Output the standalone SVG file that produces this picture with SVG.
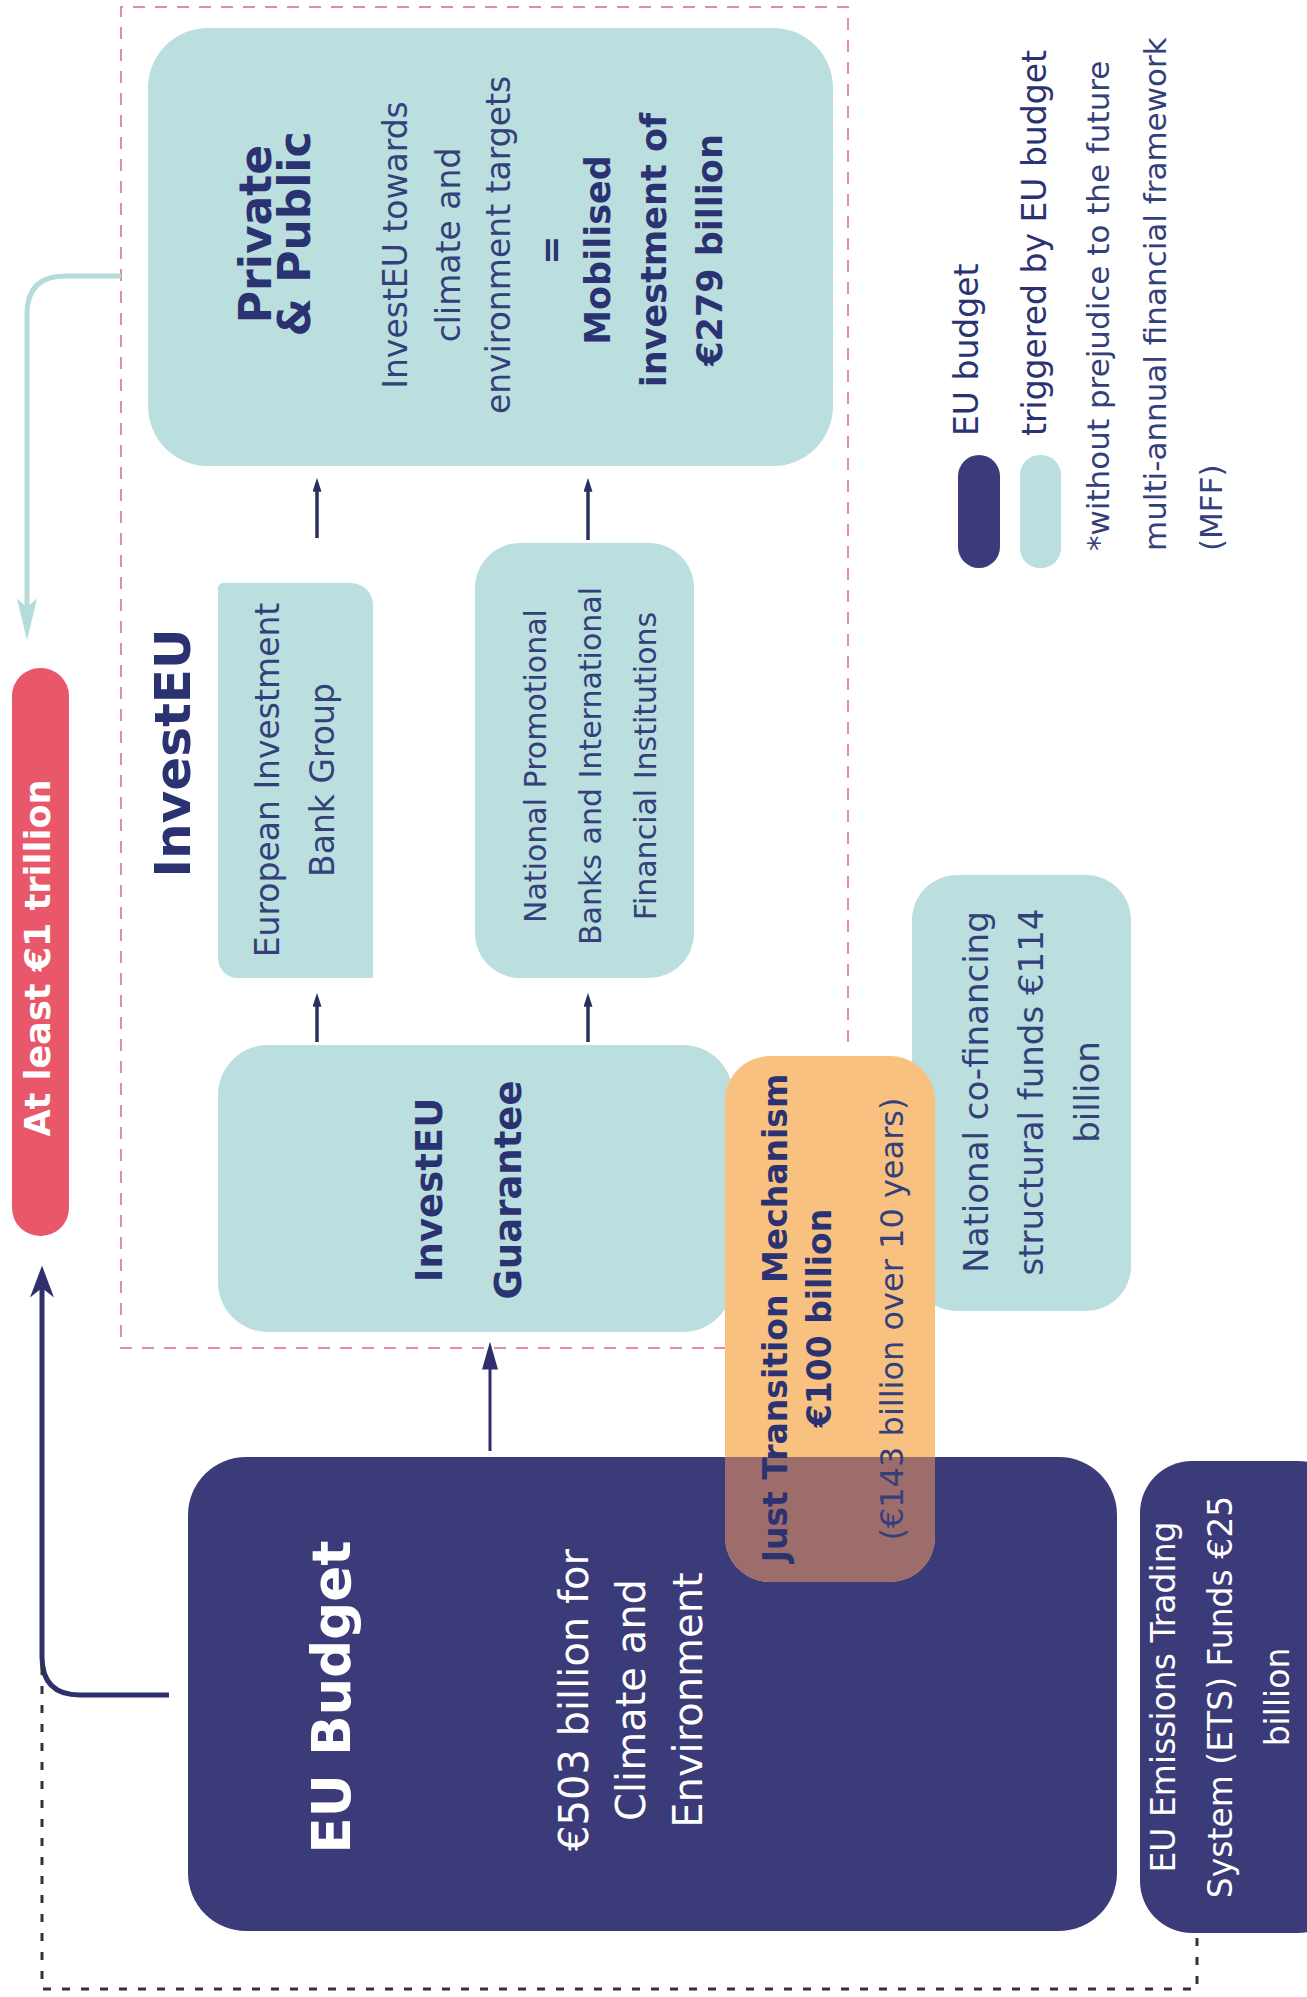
<svg xmlns="http://www.w3.org/2000/svg" width="1307" height="1997" viewBox="0 0 1307 1997">
<defs>
<style>
text{font-family:"DejaVu Sans","Liberation Sans",sans-serif;text-anchor:middle}
.st{text-anchor:start}
.b{font-weight:bold}
.nv{fill:#2a3272}
.rg{fill:#34407a}
.w{fill:#ffffff}
.teal{fill:#badfde}
.navy{fill:#3b3b79}
.thin{fill:none;stroke:#2b2f5e;stroke-width:3.5}
</style>
<marker id="ahS" viewBox="0 0 10 10" refX="2" refY="5" markerWidth="14" markerHeight="9" markerUnits="userSpaceOnUse" orient="auto" preserveAspectRatio="none"><path d="M0,0 L10,5 L0,10 Z" fill="#2b2f5e"/></marker>
<marker id="ahM" viewBox="0 0 10 10" refX="2" refY="5" markerWidth="28" markerHeight="16" markerUnits="userSpaceOnUse" orient="auto" preserveAspectRatio="none"><path d="M0,0 L10,5 L0,10 Z" fill="#2f2f6e"/></marker>
<marker id="ahN" viewBox="0 0 10 10" refX="3" refY="5" markerWidth="32" markerHeight="24" markerUnits="userSpaceOnUse" orient="auto" preserveAspectRatio="none"><path d="M0,0 L10,5 L0,10 L3,5 Z" fill="#2f2f6e"/></marker>
<marker id="ahT" viewBox="0 0 10 10" refX="2" refY="5" markerWidth="42" markerHeight="20" markerUnits="userSpaceOnUse" orient="auto" preserveAspectRatio="none"><path d="M0,0 L10,5 L0,10 L2,5 Z" fill="#b5dcdb"/></marker>
</defs>
<rect width="1307" height="1997" fill="#ffffff"/>

<g id="investeu-frame">
<path d="M848,1042 V7 H121 V1348 H725" fill="none" stroke="#e58d9c" stroke-width="2" stroke-dasharray="12 10"/>
<text class="b nv" font-size="50" transform="translate(190,753) rotate(-90)">InvestEU</text>
</g>

<g id="connectors">
<path d="M121,276 H65 Q27,276 27,314 V607" fill="none" stroke="#b5dcdb" stroke-width="5" marker-end="url(#ahT)"/>
<path d="M169,1695 H80 Q42,1695 42,1657 V1288" fill="none" stroke="#2f2f6e" stroke-width="5" marker-end="url(#ahN)"/>
<path d="M42,1667 V1989 H1197 V1933" fill="none" stroke="#333333" stroke-width="3" stroke-dasharray="8 11"/>
<path d="M490,1451 V1364" fill="none" stroke="#2f2f6e" stroke-width="3" marker-end="url(#ahM)"/>
<path class="thin" d="M317,1042 V1004" marker-end="url(#ahS)"/>
<path class="thin" d="M588,1042 V1004" marker-end="url(#ahS)"/>
<path class="thin" d="M317,538 V489" marker-end="url(#ahS)"/>
<path class="thin" d="M588,540 V489" marker-end="url(#ahS)"/>
</g>

<g id="total">
<rect x="12" y="668" width="57" height="568" rx="28" fill="#e8576a"/>
<text class="b w" font-size="35" transform="translate(50,958) rotate(-90)">At least €1 trillion</text>
</g>

<g id="private-public">
<rect class="teal" x="148" y="28" width="685" height="438" rx="60"/>
<text class="b nv" font-size="44" transform="translate(271,234) rotate(-90)">Private</text>
<text class="b nv" font-size="44" transform="translate(310,234) rotate(-90)">&amp; Public</text>
<text class="rg" font-size="33" transform="translate(407,245) rotate(-90)">InvestEU towards</text>
<text class="rg" font-size="33" transform="translate(460,245) rotate(-90)">climate and</text>
<text class="rg" font-size="33" transform="translate(510,245) rotate(-90)">environment targets</text>
<text class="b nv" font-size="35" transform="translate(563,250) rotate(-90)">=</text>
<text class="b nv" font-size="35" transform="translate(610,250) rotate(-90)">Mobilised</text>
<text class="b nv" font-size="35" transform="translate(666,250) rotate(-90)">investment of</text>
<text class="b nv" font-size="35" transform="translate(722,250) rotate(-90)">€279 billion</text>
</g>

<g id="eib">
<path class="teal" d="M223,583 H351 A22,22 0 0 1 373,605 V978 H238 A20,20 0 0 1 218,958 V588 A5,5 0 0 1 223,583 Z"/>
<text class="rg" font-size="33" transform="translate(279,780) rotate(-90)">European Investment</text>
<text class="rg" font-size="33" transform="translate(334,780) rotate(-90)">Bank Group</text>
</g>

<g id="national-banks">
<rect class="teal" x="475" y="543" width="219" height="435" rx="45"/>
<text class="rg" font-size="30" transform="translate(546,766) rotate(-90)">National Promotional</text>
<text class="rg" font-size="30" transform="translate(601,766) rotate(-90)">Banks and International</text>
<text class="rg" font-size="30" transform="translate(656,766) rotate(-90)">Financial Institutions</text>
</g>

<g id="guarantee">
<rect class="teal" x="218" y="1045" width="515" height="287" rx="50"/>
<text class="b nv" font-size="37" transform="translate(442,1190) rotate(-90)">InvestEU</text>
<text class="b nv" font-size="37" transform="translate(521,1190) rotate(-90)">Guarantee</text>
</g>

<g id="cofinancing">
<rect class="teal" x="912" y="875" width="219" height="436" rx="45"/>
<text class="rg" font-size="34" transform="translate(988,1092) rotate(-90)">National co-financing</text>
<text class="rg" font-size="34" transform="translate(1043,1092) rotate(-90)">structural funds €114</text>
<text class="rg" font-size="34" transform="translate(1099,1092) rotate(-90)">billion</text>
</g>

<g id="eu-budget">
<rect class="navy" x="188" y="1457" width="929" height="474" rx="58"/>
<text class="b w" font-size="53" transform="translate(350,1697) rotate(-90)">EU Budget</text>
<text class="w" font-size="40" transform="translate(588,1700) rotate(-90)">€503 billion for</text>
<text class="w" font-size="40" transform="translate(645,1700) rotate(-90)">Climate and</text>
<text class="w" font-size="40" transform="translate(702,1700) rotate(-90)">Environment</text>
</g>

<g id="just-transition">
<rect x="725" y="1056" width="210" height="526" rx="45" fill="#f8c180"/>
<path d="M725,1457 H935 V1537 A45,45 0 0 1 890,1582 H770 A45,45 0 0 1 725,1537 Z" fill="#9d6d6b"/>
<text class="b nv" font-size="33" transform="translate(787,1318) rotate(-90)">Just Transition Mechanism</text>
<text class="b nv" font-size="33" transform="translate(831,1318) rotate(-90)">€100 billion</text>
<text class="rg" font-size="32" transform="translate(903,1319) rotate(-90)">(€143 billion over 10 years)</text>
</g>

<g id="ets">
<rect class="navy" x="1140" y="1461" width="210" height="472" rx="52"/>
<text class="w" font-size="33" transform="translate(1175,1697) rotate(-90)">EU Emissions Trading</text>
<text class="w" font-size="33" transform="translate(1232,1697) rotate(-90)">System (ETS) Funds €25</text>
<text class="w" font-size="33" transform="translate(1289,1697) rotate(-90)">billion</text>
</g>

<g id="legend">
<rect class="navy" x="958" y="455" width="42" height="113" rx="21"/>
<rect class="teal" x="1020" y="455" width="41" height="113" rx="20"/>
<text class="st nv" font-size="33" transform="translate(978,436) rotate(-90)">EU budget</text>
<text class="st nv" font-size="33" transform="translate(1046,436) rotate(-90)">triggered by EU budget</text>
<text class="st rg" font-size="31" transform="translate(1109,551) rotate(-90)">*without prejudice to the future</text>
<text class="st rg" font-size="31" transform="translate(1166,551) rotate(-90)">multi-annual financial framework</text>
<text class="st rg" font-size="31" transform="translate(1222,551) rotate(-90)">(MFF)</text>
</g>
</svg>
